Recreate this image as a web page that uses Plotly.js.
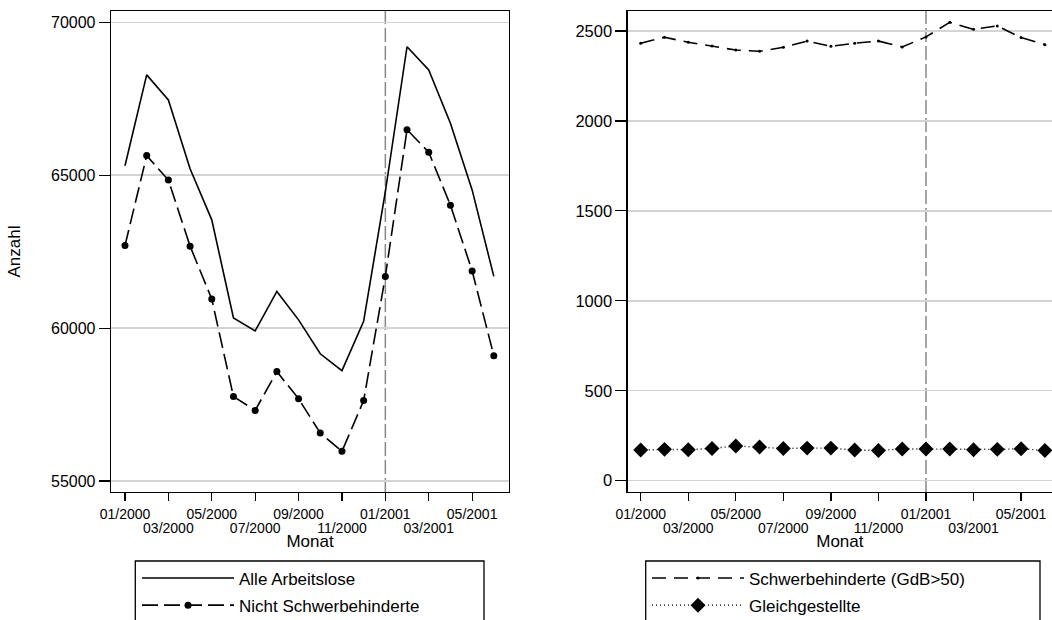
<!DOCTYPE html>
<html>
<head>
<meta charset="utf-8">
<script src="https://cdn.plot.ly/plotly-3.0.1.min.js"></script>
<style>html,body{margin:0;padding:0;background:#fff;}#chart{width:1052px;height:620px;}</style>
</head>
<body>
<div id="chart"></div>
<script>
const months = ['01/2000','02/2000','03/2000','04/2000','05/2000','06/2000','07/2000','08/2000','09/2000','10/2000','11/2000','12/2000','01/2001','02/2001','03/2001','04/2001','05/2001','06/2001'];
const alleArbeitslose = [65310, 68280, 67460, 65210, 63540, 60330, 59910, 61200, 60270, 59160, 58610, 60220, 64460, 69200, 68440, 66700, 64520, 61690];
const nichtSchwerbehinderte = [62700, 65640, 64840, 62680, 60950, 57760, 57310, 58580, 57690, 56570, 55970, 57630, 61690, 66490, 65750, 64020, 61870, 59100];
const schwerbehinderte = [2432, 2465, 2437, 2417, 2394, 2387, 2409, 2444, 2415, 2432, 2444, 2411, 2467, 2548, 2509, 2528, 2463, 2424];
const gleichgestellte = [170, 174, 172, 179, 193, 187, 179, 181, 181, 170, 168, 176, 176, 176, 172, 174, 177, 168];
const leftTicks = [55000, 60000, 65000, 70000];
const rightTicks = [0, 500, 1000, 1500, 2000, 2500];
const markerMonth = '01/2001';

const idx = months.map((m, i) => i);
const upperIdx = idx.filter(i => i % 4 === 0);
const lowerIdx = idx.filter(i => i % 4 === 2);
const FONT = 'Liberation Sans, Arial, Helvetica, sans-serif';

const traces = [
  {x: idx, y: alleArbeitslose, name: 'Alle Arbeitslose', type: 'scatter', mode: 'lines',
   line: {color: '#000', width: 1.6}, xaxis: 'x', yaxis: 'y', legend: 'legend', legendgroup: 'a'},
  {x: idx, y: nichtSchwerbehinderte, name: 'Nicht Schwerbehinderte', type: 'scatter', mode: 'lines+markers',
   line: {color: '#000', width: 1.6, dash: '16px,6px'}, marker: {color: '#000', size: 7, symbol: 'circle'},
   xaxis: 'x', yaxis: 'y', legend: 'legend', legendgroup: 'b'},
  {x: idx, y: schwerbehinderte, name: 'Schwerbehinderte (GdB>50)', type: 'scatter', mode: 'lines+markers',
   line: {color: '#000', width: 1.6, dash: '14px,8px'}, marker: {color: '#000', size: 3},
   xaxis: 'x2', yaxis: 'y2', legend: 'legend2', legendgroup: 'c'},
  {x: idx, y: gleichgestellte, name: 'Gleichgestellte', type: 'scatter', mode: 'lines+markers',
   line: {color: '#000', width: 1.4, dash: '1px,3px'}, marker: {color: '#000', size: 11.5, symbol: 'diamond'},
   xaxis: 'x2', yaxis: 'y2', legend: 'legend2', legendgroup: 'd'},
  // helper traces so the second tick-label rows (overlay axes) are drawn
  {x: [null], y: [null], type: 'scatter', mode: 'lines', xaxis: 'x3', yaxis: 'y', showlegend: false, hoverinfo: 'skip'},
  {x: [null], y: [null], type: 'scatter', mode: 'lines', xaxis: 'x4', yaxis: 'y2', showlegend: false, hoverinfo: 'skip'}
];

const xCommon = {
  type: 'linear', tickvals: upperIdx, ticktext: upperIdx.map(i => months[i]),
  ticks: 'outside', ticklen: 8, tickwidth: 1.2, tickcolor: '#000',
  showline: true, linecolor: '#000', linewidth: 1.3, mirror: true,
  showgrid: false, zeroline: false, ticklabelstandoff: 1,
  tickfont: {family: FONT, size: 14, color: '#000'},
  title: {text: 'Monat', font: {family: FONT, size: 17, color: '#000'}, standoff: 14}
};
const xLower = {
  type: 'linear', tickvals: lowerIdx, ticktext: lowerIdx.map(i => months[i]),
  ticks: 'outside', ticklen: 8, tickwidth: 1.2, tickcolor: '#000',
  showline: false, showgrid: false, zeroline: false, side: 'bottom',
  ticklabelstandoff: 15,
  tickfont: {family: FONT, size: 14, color: '#000'}
};
const yCommon = {
  ticks: 'outside', ticklen: 11, tickwidth: 1.2, tickcolor: '#000',
  showline: true, linecolor: '#000', linewidth: 1.3,
  showgrid: true, gridcolor: '#d4d4d4', gridwidth: 1.5, zeroline: false
};

const W = 1052;
const leftDom = [111 / W, 509 / W];
const rightDom = [627.7 / W, 1];
const plotBottom = 492, plotTop = 11, ph = plotBottom - plotTop;
const py = v => (plotBottom - v) / ph;

const layout = {
  width: 1052, height: 620,
  margin: {l: 0, r: 0, t: 11, b: 128, autoexpand: false},
  paper_bgcolor: '#fff', plot_bgcolor: '#fff',
  font: {family: FONT, color: '#000'},
  xaxis: Object.assign({}, xCommon, {domain: leftDom, range: [-0.645, 17.7], anchor: 'y'}),
  xaxis3: Object.assign({}, xLower, {overlaying: 'x', anchor: 'y', range: [-0.645, 17.7]}),
  yaxis: Object.assign({}, yCommon, {domain: [0, 1], anchor: 'x', range: [54641, 70369],
    tickvals: leftTicks, ticktext: leftTicks.map(String), mirror: true,
    tickfont: {family: FONT, size: 16, color: '#000'},
    title: {text: 'Anzahl', font: {family: FONT, size: 17, color: '#000'}, standoff: 26}}),
  xaxis2: Object.assign({}, xCommon, {domain: rightDom, range: [-0.547, 17.3], anchor: 'y2'}),
  xaxis4: Object.assign({}, xLower, {overlaying: 'x2', anchor: 'y2', range: [-0.547, 17.3]}),
  yaxis2: Object.assign({}, yCommon, {domain: [0, 1], anchor: 'x2', range: [-63, 2611],
    tickvals: rightTicks, ticktext: rightTicks.map(String), mirror: false,
    tickfont: {family: FONT, size: 16.5, color: '#000'}}),
  shapes: [
    {type: 'line', xref: 'x', yref: 'y domain', x0: months.indexOf(markerMonth), x1: months.indexOf(markerMonth), y0: 0, y1: 1,
     line: {color: '#888', width: 1.5, dash: '14px,4px'}, layer: 'below'},
    {type: 'line', xref: 'x2', yref: 'y2 domain', x0: months.indexOf(markerMonth), x1: months.indexOf(markerMonth), y0: 0, y1: 1,
     line: {color: '#888', width: 1.5, dash: '14px,4px'}, layer: 'below'},
    {type: 'rect', xref: 'paper', yref: 'paper', x0: 135.3 / W, x1: 484 / W, y0: py(561), y1: py(660),
     line: {color: '#000', width: 1.3}, fillcolor: 'rgba(0,0,0,0)'},
    {type: 'rect', xref: 'paper', yref: 'paper', x0: 645.7 / W, x1: 1040 / W, y0: py(561), y1: py(660),
     line: {color: '#000', width: 1.3}, fillcolor: 'rgba(0,0,0,0)'}
  ],
  legend: {x: 137 / W, y: py(560.5), xanchor: 'left', yanchor: 'top', bgcolor: 'rgba(0,0,0,0)', borderwidth: 0,
    font: {family: FONT, size: 17, color: '#000'}, itemwidth: 92, traceorder: 'grouped', tracegroupgap: 2},
  legend2: {x: 647 / W, y: py(560.5), xanchor: 'left', yanchor: 'top', bgcolor: 'rgba(0,0,0,0)', borderwidth: 0,
    font: {family: FONT, size: 17, color: '#000'}, itemwidth: 92, traceorder: 'grouped', tracegroupgap: 2},
  showlegend: true
};

Plotly.newPlot('chart', traces, layout, {staticPlot: true, displayModeBar: false});
</script>
</body>
</html>
